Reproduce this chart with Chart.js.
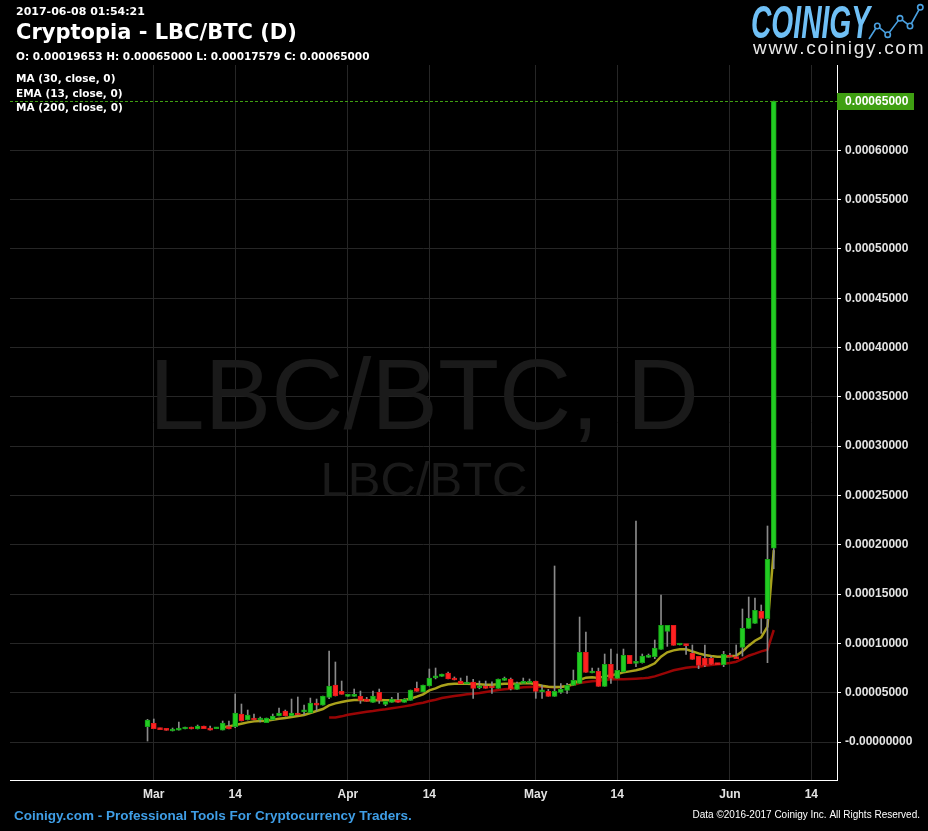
<!DOCTYPE html>
<html><head><meta charset="utf-8">
<script src="https://cdn.jsdelivr.net/npm/chart.js@4/dist/chart.umd.min.js"></script>
<style>html,body{margin:0;padding:0;background:#000;overflow:hidden}canvas{display:block}</style>
</head><body>
<canvas id="c" width="928" height="831" style="width:928px;height:831px"></canvas>
<script>
// ---- data (prices in satoshi, 1e-8 BTC); daily candles from 2017-02-28 ----
const startDate = '2017-02-28';
const openSat = [1555,1895,1420,1385,1115,1215,1320,1520,1320,1625,
  1420,1350,1215,1555,1555,2840,2230,2435,2230,1960,
  2230,2635,3145,2635,2940,3050,2940,3955,3750,4530,
  5780,5140,4630,4630,4630,4360,4025,5035,3820,4025,
  4225,4025,4225,5445,5070,5680,6500,6660,7000,6490,
  6185,5880,6085,5500,5680,5500,5445,6250,6390,5340,
  5950,5985,6185,5100,5140,4630,5035,5240,5745,5950,
  9095,7000,7165,5645,7875,6455,7100,8790,7980,8045,
  8585,8655,9400,11225,11830,9840,9905,8990,8690,8485,
  8485,7945,7845,8790,8550,9600,11530,12035,13250,12510,
  19653];
const highSat = [2300,2335,1420,1385,1420,2030,1520,1520,1725,1625,
  1625,1400,2130,2130,4870,3855,3245,2840,2535,2435,
  2840,3450,3245,4360,4565,3750,4460,4360,4665,9230,
  8115,6185,4735,5375,5170,4530,5170,5375,4125,4530,
  4935,4400,5275,6085,5780,7405,7505,6900,7100,6600,
  6490,6695,6355,6185,6185,6100,6390,6590,6490,6085,
  6490,6390,6185,5780,5340,17850,5915,5950,7300,12675,
  11155,7500,7500,8925,9430,8925,9430,8790,22400,8925,
  8925,10345,14910,11830,11830,9940,9905,9840,8690,9840,
  8720,7945,9195,8990,9840,13490,14705,14605,13895,21905,
  65000];
const lowSat = [100,1350,1250,1185,1115,1215,1320,1320,1320,1350,
  1215,1350,1215,1320,1450,2130,2230,2230,2030,1960,
  2230,2635,2635,2635,2740,2770,2940,3145,3750,4400,
  4665,4835,4630,4630,3920,4125,4025,3920,3685,4025,
  4025,4025,4225,5140,5070,5680,6400,6660,6390,6290,
  5915,5880,4430,5400,5445,4935,5445,6250,5275,5340,
  5950,5985,4430,4430,4630,4630,4935,4935,5745,5950,
  7065,7000,5645,5645,5950,6455,7100,7945,7640,8000,
  8585,8450,9400,9700,9805,9840,8890,8385,7440,7640,
  7875,7845,7640,8620,8450,8720,11530,12035,11020,8045,
  17579];
const closeSat = [2230,1350,1250,1185,1320,1420,1520,1320,1625,1350,
  1215,1400,1925,1320,2940,2130,2740,2230,2300,2435,
  2635,2940,2635,2940,2740,3110,3955,3750,4665,5680,
  4665,4835,4735,4735,4225,4125,4665,4225,4125,4360,
  4025,4325,5275,5140,5780,6490,6550,6895,6390,6290,
  5915,6085,5445,5580,5445,5475,6390,6390,5375,5915,
  6085,6185,5140,5150,4630,5140,5340,5745,6255,9095,
  7065,7100,5645,7875,6455,7270,8790,7945,8145,8720,
  8755,9535,11830,11830,9805,9940,9770,8385,7775,7775,
  7875,7845,8890,8620,8450,11530,12540,13355,12540,18525,
  65000];
const ema13Start = 12;
const ema13Sat = [1470,1590,1725,1860,1995,2095,2130,2165,2265,2365,2435,2535,2635,2750,2950,
  3145,3345,3720,3920,4055,4190,4260,4260,4225,4225,4260,4225,4225,4190,4260,4395,4600,4835,
  5240,5445,5715,5850,5915,5915,5915,5880,5850,5815,5815,5850,5915,5915,5915,5950,5985,5850,
  5715,5610,5580,5580,5680,5880,6290,6525,6560,6490,6660,6760,6895,7065,7165,7270,7435,7675,
  7980,8655,9095,9295,9400,9400,9195,8990,8825,8720,8655,8655,8690,8755,9195,9770,10275,10615,
  11695,19450];
const ma30Start = 29;
const ma30Sat = [2500,2500,2605,2770,2875,2975,3075,3145,3245,3315,3415,3515,3615,3720,3890,
  3990,4160,4295,4460,4565,4665,4750,4835,4900,4970,5070,5170,5275,5340,5410,5475,5545,5580,
  5610,5610,5580,5545,5580,5680,5815,5985,6085,6155,6220,6290,6355,6390,6375,6400,6425,6455,
  6525,6660,6865,7065,7270,7405,7540,7605,7640,7740,7810,7875,7945,8010,8145,8420,8755,8960,
  9195,9365,11360];
const xTickDays = [1,14,32,45,62,75,93,106];
const xTickLabels = ['Mar','14','Apr','14','May','14','Jun','14'];
const yTickValues = [0,0.00005,0.0001,0.00015,0.0002,0.00025,0.0003,0.00035,0.0004,0.00045,0.0005,0.00055,0.0006];
const yTickLabels = ['-0.00000000','0.00005000','0.00010000','0.00015000','0.00020000','0.00025000','0.00030000','0.00035000','0.00040000','0.00045000','0.00050000','0.00055000','0.00060000'];
const legendLabels = ['MA (30, close, 0)','EMA (13, close, 0)','MA (200, close, 0)'];
const timestampText = '2017-06-08 01:54:21';
const titleText = 'Cryptopia - LBC/BTC (D)';
const watermarkBig = 'LBC/BTC, D';
const watermarkSmall = 'LBC/BTC';
const footerLeft = 'Coinigy.com - Professional Tools For Cryptocurrency Traders.';
const footerRight = 'Data \u00A92016-2017 Coinigy Inc. All Rights Reserved.';

// ---- build datasets ----
const SAT = 1e-8;
const idx = openSat.map((_, i) => i);
const up = idx.map(i => closeSat[i] >= openSat[i]);
const wickData = idx.map(i => ({x: i, y: [lowSat[i] * SAT, highSat[i] * SAT]}));
const bodyData = idx.map(i => ({x: i, y: [Math.min(openSat[i], closeSat[i]) * SAT, Math.max(openSat[i], closeSat[i]) * SAT]}));
const emaData = ema13Sat.map((v, k) => ({x: ema13Start + k, y: v * SAT}));
const maData = ma30Sat.map((v, k) => ({x: ma30Start + k, y: v * SAT}));
const last = openSat.length - 1;

const FONT = '"Liberation Sans", Arial, sans-serif';
const DV = '"DejaVu Sans", Verdana, sans-serif';

const deco = {
  id: 'deco',
  beforeDraw(chart) {
    const c = chart.ctx;
    c.save(); c.fillStyle = '#000'; c.fillRect(0, 0, chart.width, chart.height); c.restore();
  },
  beforeDatasetsDraw(chart) {
    const c = chart.ctx;
    c.save();
    c.fillStyle = '#1a1a1a';
    c.textAlign = 'center'; c.textBaseline = 'alphabetic';
    c.font = '100px ' + FONT;
    c.fillText(watermarkBig, 424, 429);
    c.font = '49px ' + FONT;
    c.fillText(watermarkSmall, 424, 496);
    c.restore();
  },
  afterDatasetsDraw(chart) {
    const c = chart.ctx, a = chart.chartArea, y = chart.scales.y.getPixelForValue(closeSat[last] * SAT);
    c.save();
    c.strokeStyle = '#3f9f12'; c.lineWidth = 1; c.setLineDash([3, 2]);
    c.beginPath(); c.moveTo(a.left, Math.round(y) + 0.5); c.lineTo(a.right, Math.round(y) + 0.5); c.stroke();
    c.restore();
  },
  afterDraw(chart) {
    const c = chart.ctx, a = chart.chartArea;
    const py = Math.round(chart.scales.y.getPixelForValue(closeSat[last] * SAT));
    c.save();
    // price box
    c.fillStyle = '#3f9f12';
    c.fillRect(a.right, py - 8, 77, 17);
    c.fillStyle = '#fff'; c.font = 'bold 12px ' + FONT; c.textBaseline = 'middle'; c.textAlign = 'left';
    c.fillText((closeSat[last] * SAT).toFixed(8), a.right + 8, py + 1);
    // header
    c.textBaseline = 'alphabetic';
    c.fillStyle = '#fff';
    c.font = 'bold 11px ' + DV; c.fillText(timestampText, 16, 15);
    c.font = 'bold 21px ' + DV; c.fillText(titleText, 16, 39);
    const ohlc = 'O: ' + (openSat[last] * SAT).toFixed(8) + ' H: ' + (highSat[last] * SAT).toFixed(8) +
      ' L: ' + (lowSat[last] * SAT).toFixed(8) + ' C: ' + (closeSat[last] * SAT).toFixed(8);
    c.font = 'bold 10.5px ' + DV; c.fillText(ohlc, 16, 60);
    legendLabels.forEach((t, i) => c.fillText(t, 16, 82 + i * 14.5));
    // logo
    c.save();
    const g = c.createLinearGradient(0, 4, 0, 38);
    g.addColorStop(0, '#6fc0f6'); g.addColorStop(0.5, '#2a8ee2'); g.addColorStop(1, '#1464c0');
    c.fillStyle = g;
    c.translate(751, 38); c.scale(0.6, 1);
    c.font = 'italic bold 47px ' + FONT;
    c.fillText('COINIGY', 0, 0);
    c.restore();
    c.strokeStyle = '#4aa0e0'; c.lineWidth = 1.6;
    const pts = [[869, 39], [877.3, 26], [887.7, 34.7], [900, 18.3], [910, 26], [920.3, 7.3]];
    c.beginPath(); pts.forEach((p, i) => i ? c.lineTo(p[0], p[1]) : c.moveTo(p[0], p[1])); c.stroke();
    c.fillStyle = '#000';
    pts.slice(1).forEach(p => { c.beginPath(); c.arc(p[0], p[1], 2.7, 0, Math.PI * 2); c.fill(); c.stroke(); });
    // www.coinigy.com
    c.fillStyle = '#e8e8e8'; c.font = '19px ' + FONT;
    const url = 'www.coinigy.com';
    const w = c.measureText(url).width;
    const sp = (168 - w) / (url.length - 1);
    let x = 753;
    for (const ch of url) { c.fillText(ch, x, 54); x += c.measureText(ch).width + sp; }
    // footer
    c.fillStyle = '#3f9ee6'; c.font = 'bold 13.5px ' + FONT; c.textAlign = 'left';
    c.fillText(footerLeft, 14, 820);
    c.fillStyle = '#ffffff'; c.font = '10px ' + FONT; c.textAlign = 'right';
    c.fillText(footerRight, 920, 818);
    c.restore();
  }
};

new Chart(document.getElementById('c'), {
  type: 'bar',
  data: {
    datasets: [
      {type: 'line', data: emaData, borderColor: '#aaa21c', borderWidth: 2.5, pointRadius: 0, tension: 0, order: 3},
      {type: 'line', data: maData, borderColor: '#990505', borderWidth: 2.5, pointRadius: 0, tension: 0, order: 4},
      {type: 'bar', data: wickData, backgroundColor: '#8a8a8a', barThickness: 1, grouped: false, minBarLength: 1, order: 2},
      {type: 'bar', data: bodyData, grouped: false, barThickness: 5, minBarLength: 2, order: 1,
        backgroundColor: idx.map(i => up[i] ? '#22cc22' : '#ff2222'),
        borderColor: idx.map(i => up[i] ? '#17a317' : '#e01a1a'),
        borderWidth: 1, borderSkipped: false}
    ]
  },
  options: {
    responsive: false, animation: false, devicePixelRatio: 1, events: [],
    layout: {padding: {left: 10, top: 65, right: 0, bottom: 0}},
    plugins: {legend: {display: false}, tooltip: {enabled: false}},
    scales: {
      x: {
        type: 'linear', min: -21.96, max: 110.1, offset: false,
        afterBuildTicks: s => { s.ticks = xTickDays.map(v => ({value: v})); },
        afterFit: s => { s.height = 51; },
        ticks: {callback: (v, i) => xTickLabels[i], color: '#e4e4e4', autoSkip: false, maxRotation: 0,
          font: {family: FONT, weight: 'bold', size: 12}, padding: 7},
        grid: {color: '#262626', drawTicks: false, offset: false},
        border: {color: '#ffffff', width: 1}
      },
      y: {
        type: 'linear', position: 'right', min: -0.0000385, max: 0.0006865,
        afterBuildTicks: s => { s.ticks = yTickValues.map(v => ({value: v})); },
        afterFit: s => { s.width = 91; },
        ticks: {callback: (v, i) => yTickLabels[i], color: '#e4e4e4', padding: 4,
          font: {family: FONT, weight: 'bold', size: 12}},
        grid: {color: '#262626', tickColor: '#ffffff', tickLength: 4},
        border: {color: '#ffffff', width: 1}
      }
    }
  },
  plugins: [deco]
});
</script>
</body></html>
